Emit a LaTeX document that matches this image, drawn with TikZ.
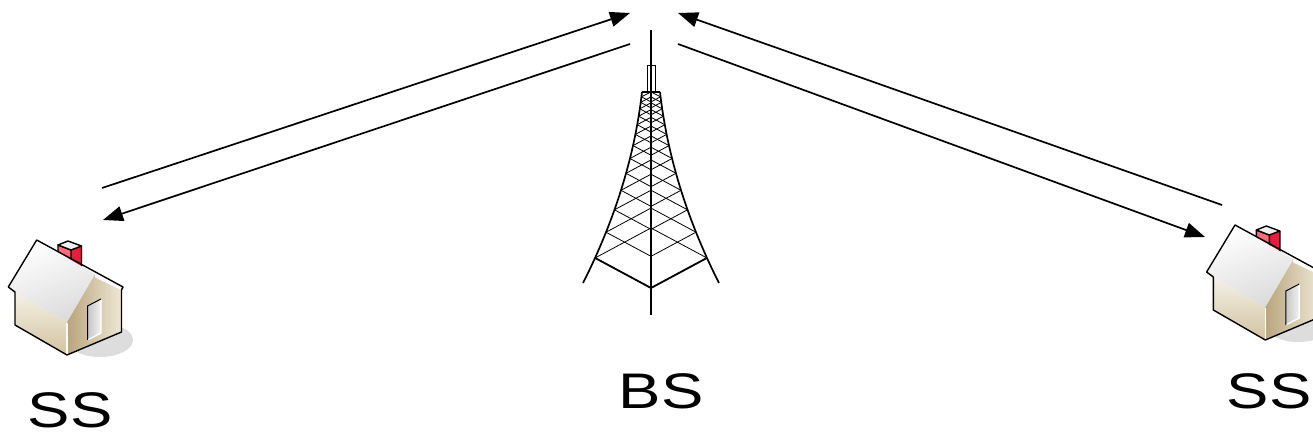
\documentclass[tikz,border=0pt]{standalone}
\usepackage{fontspec}
\setmainfont{Liberation Sans}
\usetikzlibrary{arrows.meta}

\definecolor{wallLight}{HTML}{F5F1E7}
\definecolor{wallDark}{HTML}{D2C3A0}
\definecolor{gableDark}{HTML}{B9A57D}
\definecolor{gableLight}{HTML}{EEE7D6}
\definecolor{chimRed}{HTML}{E41F3A}
\definecolor{chimPink}{HTML}{FF6B78}
\definecolor{shadowGray}{HTML}{DDDDDD}

\newcommand{\widetext}[1]{\scalebox{1.27}[1]{#1}}

\tikzset{
  signal/.style={line width=1.7pt, -{Triangle[length=20pt,width=15pt]}},
  label/.style={font=\fontsize{50}{54}\selectfont, anchor=base, inner sep=0pt},
  leg/.style={line width=1.7pt, line join=round},
  lattice/.style={line width=0.8pt},
  outline/.style={line width=1.4pt, line join=round},
  house/.pic={
    % ground shadow
    \fill[shadowGray] (100,340) ellipse [x radius=33, y radius=17];
    % chimney
    \fill[chimPink] (58,245) -- (71,250) -- (71,275) -- (58,270) -- cycle;
    \fill[chimRed] (71,250) -- (81.5,246) -- (81.5,275) -- (71,278) -- cycle;
    \draw[outline] (58,270) -- (58,245) -- (71,250) -- (71,270)
                   (81.5,246) -- (81.5,270);
    \draw[outline, fill=gray!12] (58,245) -- (68,241) -- (81.5,246) -- (71,250) -- cycle;
    % side wall
    \path[top color=wallLight, bottom color=wallDark]
      (15,292) -- (67,322) -- (67,355) -- (15,325) -- cycle;
    % gable wall
    \path[left color=gableDark, right color=gableLight]
      (95,274) -- (121.5,289) -- (121.5,332) -- (67,355) -- (67,322) -- cycle;
    % far roof strip
    \fill[white] (95,274) -- (123,287) -- (121.5,290) -- (95,277.5) -- cycle;
    % roof
    \path[top color=white, bottom color=gray!28, shading angle=20]
      (36.7,240) -- (95,274) -- (67,322) -- (15,292) -- (8.3,287) -- cycle;
    % corner highlight
    \draw[white, line width=1.2pt] (67,323) -- (67,354);
    % door
    \path[left color=gray!45, right color=gray!10]
      (87.5,306) -- (101,299) -- (101,333) -- (87.5,340) -- cycle;
    \draw[white, line width=1.3pt] (101,299) -- (101,333) -- (87.5,340);
    \draw[line width=1pt] (87.5,340) -- (87.5,306) -- (101,299);
    % silhouette
    \draw[outline] (36.7,240) -- (123,287) -- (121.5,290) -- (121.5,332)
      -- (67,355) -- (15,325) -- (15,292) -- (8.3,287) -- cycle;
  }
}

\begin{document}
\begin{tikzpicture}[x=1pt, y=-1pt]
  \useasboundingbox (0,0) rectangle (1313,438);
  \clip (0,0) rectangle (1313,438);

  % subscriber stations
  \pic at (0,0) {house};
  \pic at (1198.3,-15) {house};

  % base station tower: mast and top section
  \draw[line width=1.4pt] (651,30) -- (651,315);
  \draw[line width=0.9pt] (647.3,65) rectangle (655,92);
  \draw[line width=1.2pt] (642,92) -- (660,92);

  % tower legs
  \draw[leg] plot[domain=92:283, samples=50, variable=\t]
    ({651-(9+47*(0.6*((\t-92)/166)^2+0.4*(\t-92)/166))}, \t);
  \draw[leg] plot[domain=92:283, samples=50, variable=\t]
    ({651+(9+47*(0.6*((\t-92)/166)^2+0.4*(\t-92)/166))}, \t);

  % tower base
  \draw[line width=1.8pt, line join=round] (595.2,258) -- (651,288) -- (706.8,258);

  % lattice bracing on both faces
  \foreach \yy in {258,232.2,209.8,190.3,173.3,158.5,145.6,134.4,124.7,116.2,108.8,102.4,96.8} {
    \pgfmathsetmacro{\s}{(\yy-92)/166}
    \pgfmathsetmacro{\w}{9+47*(0.6*\s*\s+0.4*\s)}
    \pgfmathsetmacro{\d}{0.536*\w}
    \pgfmathsetmacro{\u}{max(92,\yy-\d)}
    \draw[lattice] ({651-\w},\yy) -- (651,{\yy+\d});
    \draw[lattice] ({651+\w},\yy) -- (651,{\yy+\d});
    \draw[lattice] ({651-\w},\yy) -- (651,\u);
    \draw[lattice] ({651+\w},\yy) -- (651,\u);
  }

  % link end points
  \coordinate (ssLout) at (102,188);
  \coordinate (ssLin)  at (103,220);
  \coordinate (bsLin)  at (630,13);
  \coordinate (bsLout) at (630,44);
  \coordinate (bsRin)  at (678,13);
  \coordinate (bsRout) at (678,44);
  \coordinate (ssRout) at (1222,205);
  \coordinate (ssRin)  at (1205,237);

  % uplink and downlink arrows
  \draw[signal] (ssLout) -- (bsLin);
  \draw[signal] (bsLout) -- (ssLin);
  \draw[signal] (ssRout) -- (bsRin);
  \draw[signal] (bsRout) -- (ssRin);

  % labels
  \node[label] (ssL) at (70,427) {\widetext{SS}};
  \node[label] (bs)  at (661,408) {\widetext{BS}};
  \node[label] (ssR) at (1269,408) {\widetext{SS}};
\end{tikzpicture}
\end{document}
